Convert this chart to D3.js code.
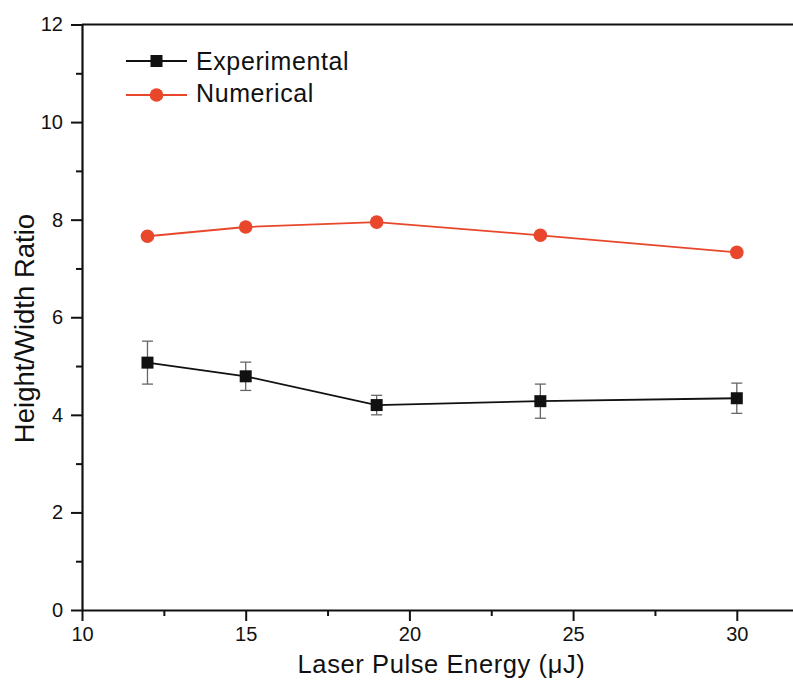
<!DOCTYPE html>
<html>
<head>
<meta charset="utf-8">
<script src="https://cdn.jsdelivr.net/npm/d3@7"></script>
<style>
  body { margin: 0; background: #fff; }
  svg { display: block; font-family: "Liberation Sans", Arial, sans-serif; }
</style>
</head>
<body>
<svg width="793" height="683"></svg>
<script>
const svg = d3.select("svg");
const width = +svg.attr("width");
const height = +svg.attr("height");

// data
const energy = [12, 15, 19, 24, 30];
const experimental = [5.07, 4.79, 4.20, 4.28, 4.34];
const expError = [0.44, 0.29, 0.20, 0.35, 0.31];
const numerical = [7.66, 7.85, 7.95, 7.68, 7.33];
const xTicks = [10, 15, 20, 25, 30];
const yTicks = [0, 2, 4, 6, 8, 10, 12];

const red = "#e8472c";
const plotLeft = 82, plotTop = 24.5, plotBottom = 610;

// x axis runs past the right edge of the picture
const x = d3.scaleLinear().domain([10, 32]).range([plotLeft, plotLeft + 22 * 32.74]);
const y = d3.scaleLinear().domain([0, 12]).range([plotBottom, plotTop]);

// minor ticks
const xMinor = d3.range(12.5, 32, 5);
const yMinor = d3.range(1, 12, 2);

svg.append("g")
  .attr("transform", `translate(0,${plotBottom})`)
  .call(d3.axisBottom(x).tickValues(xMinor).tickSize(6).tickFormat(""))
  .call(g => g.select(".domain").remove())
  .selectAll("line").attr("stroke", "#111").attr("stroke-width", 2);

svg.append("g")
  .attr("transform", `translate(${plotLeft},0)`)
  .call(d3.axisLeft(y).tickValues(yMinor).tickSize(6).tickFormat(""))
  .call(g => g.select(".domain").remove())
  .selectAll("line").attr("stroke", "#111").attr("stroke-width", 2);

const xAxis = svg.append("g")
  .attr("transform", `translate(0,${plotBottom})`)
  .call(d3.axisBottom(x).tickValues(xTicks).tickSize(11).tickSizeOuter(0).tickPadding(6));
xAxis.select(".domain").attr("stroke", "#111").attr("stroke-width", 2.2);
xAxis.selectAll(".tick line").attr("stroke", "#111").attr("stroke-width", 2);
xAxis.selectAll("text").attr("font-size", 20).attr("fill", "#111");

const yAxis = svg.append("g")
  .attr("transform", `translate(${plotLeft},0)`)
  .call(d3.axisLeft(y).tickValues(yTicks).tickSize(11).tickSizeOuter(0).tickPadding(8));
yAxis.select(".domain").attr("stroke", "#111").attr("stroke-width", 2.2);
yAxis.selectAll(".tick line").attr("stroke", "#111").attr("stroke-width", 2);
yAxis.selectAll("text").attr("font-size", 20).attr("fill", "#111");

// top frame line
svg.append("line")
  .attr("x1", plotLeft).attr("x2", width)
  .attr("y1", y(12)).attr("y2", y(12))
  .attr("stroke", "#111").attr("stroke-width", 2.2);

// axis titles
svg.append("text")
  .attr("x", 441.5).attr("y", 673)
  .attr("text-anchor", "middle")
  .attr("font-size", 25.5).attr("letter-spacing", 0.6).attr("fill", "#111")
  .text("Laser Pulse Energy (μJ)");

svg.append("text")
  .attr("transform", "translate(33.5,328.5) rotate(-90)")
  .attr("text-anchor", "middle")
  .attr("font-size", 27.5).attr("fill", "#111")
  .text("Height/Width Ratio");

const line = d3.line().x(d => x(d[0])).y(d => y(d[1]));

// numerical series
svg.append("path")
  .datum(energy.map((e, i) => [e, numerical[i]]))
  .attr("d", line)
  .attr("fill", "none").attr("stroke", red).attr("stroke-width", 1.8);

svg.append("g").selectAll("circle")
  .data(energy.map((e, i) => [e, numerical[i]]))
  .join("circle")
  .attr("cx", d => x(d[0])).attr("cy", d => y(d[1]))
  .attr("r", 6.8).attr("fill", red);

// experimental series with error bars
const expData = energy.map((e, i) => ({ e, v: experimental[i], err: expError[i] }));

const eb = svg.append("g").attr("stroke", "#666").attr("stroke-width", 1.3);
expData.forEach(d => {
  const cx = x(d.e);
  eb.append("line").attr("x1", cx).attr("x2", cx).attr("y1", y(d.v - d.err)).attr("y2", y(d.v + d.err));
  eb.append("line").attr("x1", cx - 5.5).attr("x2", cx + 5.5).attr("y1", y(d.v + d.err)).attr("y2", y(d.v + d.err));
  eb.append("line").attr("x1", cx - 5.5).attr("x2", cx + 5.5).attr("y1", y(d.v - d.err)).attr("y2", y(d.v - d.err));
});

svg.append("path")
  .datum(expData.map(d => [d.e, d.v]))
  .attr("d", line)
  .attr("fill", "none").attr("stroke", "#111").attr("stroke-width", 1.8);

svg.append("g").selectAll("rect")
  .data(expData)
  .join("rect")
  .attr("x", d => x(d.e) - 6).attr("y", d => y(d.v) - 6)
  .attr("width", 12).attr("height", 12)
  .attr("fill", "#111");

// legend
const legend = svg.append("g");
const items = [
  { label: "Experimental", color: "#111", shape: "square", yy: 61, base: 70 },
  { label: "Numerical", color: red, shape: "circle", yy: 95, base: 102 }
];
items.forEach(it => {
  legend.append("line")
    .attr("x1", 126).attr("x2", 187).attr("y1", it.yy).attr("y2", it.yy)
    .attr("stroke", it.color).attr("stroke-width", 1.8);
  if (it.shape === "square") {
    legend.append("rect").attr("x", 150.5).attr("y", it.yy - 6).attr("width", 12).attr("height", 12).attr("fill", it.color);
  } else {
    legend.append("circle").attr("cx", 156.5).attr("cy", it.yy).attr("r", 6.8).attr("fill", it.color);
  }
  legend.append("text")
    .attr("x", 196).attr("y", it.base)
    .attr("font-size", 25).attr("letter-spacing", 0.6).attr("fill", "#111")
    .text(it.label);
});
</script>
</body>
</html>
